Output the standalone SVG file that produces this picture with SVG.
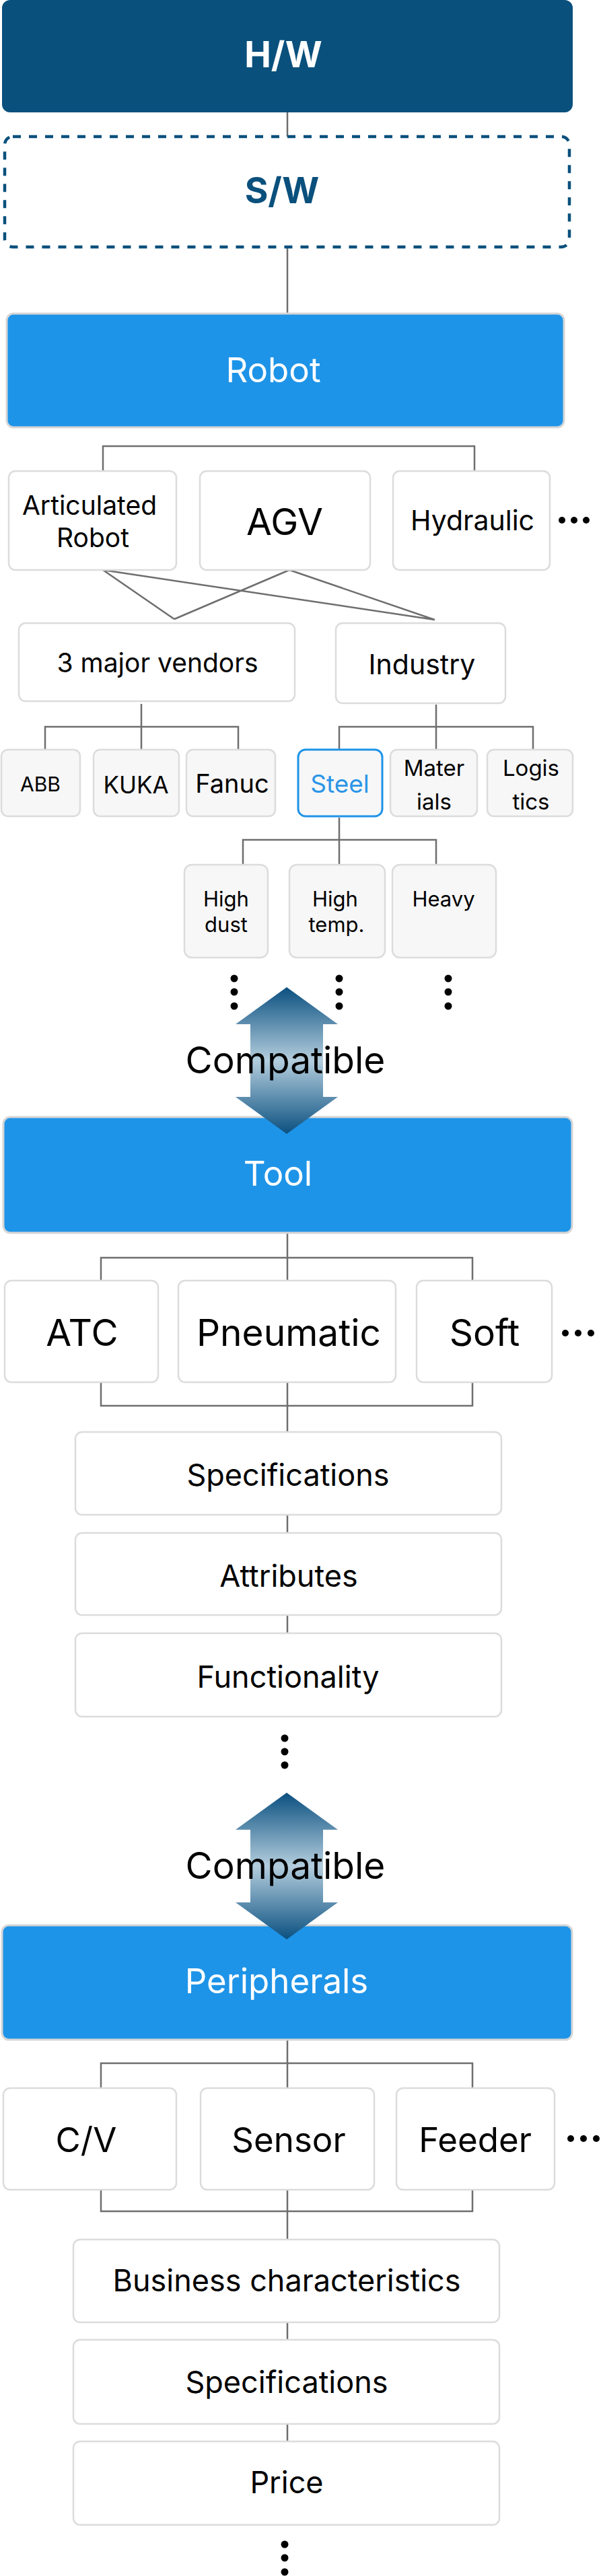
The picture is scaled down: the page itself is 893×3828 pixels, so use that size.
<svg xmlns="http://www.w3.org/2000/svg" width="893" height="3828" viewBox="0 0 893 3828">
<defs>
<linearGradient id="arrowGrad" x1="0" y1="0" x2="0" y2="1">
<stop offset="0" stop-color="#0b5080"/>
<stop offset="0.5" stop-color="#b3cddd"/>
<stop offset="1" stop-color="#0b5080"/>
</linearGradient>
<style>
text{font-family:Inter,"Noto Sans","Liberation Sans",sans-serif;fill:#000;text-anchor:middle}
.box{fill:#fff;stroke:#dcdcdc;stroke-width:2.5}
.gbox{fill:#f7f7f7;stroke:#dcdcdc;stroke-width:2.5}
.blue{fill:#1e94e8;stroke:#d6d6d6;stroke-width:3}
.wt{fill:#fff}
.conn{fill:none;stroke:#6e6e6e;stroke-width:2.5}
.dot{fill:#000}
.arrow{fill:url(#arrowGrad)}
</style>
</defs>
<rect width="893" height="3828" fill="#fff"/>

<g id="connectors">
<path class="conn" d="M427 167V203"/>
<path class="conn" d="M427 367V466"/>
<path class="conn" d="M153 700V663H705V700"/>
<path class="conn" d="M153 847L259 920M153 847L646 921M430 847L259 920M430 847L646 921"/>
<path class="conn" d="M210 1046V1113M67 1113V1080H354V1113"/>
<path class="conn" d="M648 1047V1113M504 1113V1080H792V1113"/>
<path class="conn" d="M504 1215V1285M361 1285V1248H648V1285"/>
<path class="conn" d="M427 1832V1903M150 1903V1869H702V1903"/>
<path class="conn" d="M150 2054V2089H702V2054M427 2054V2128"/>
<path class="conn" d="M427 2251V2278M427 2400V2427"/>
<path class="conn" d="M427 3031V3103M150 3103V3066H702V3103"/>
<path class="conn" d="M150 3254V3286H702V3254M427 3254V3328"/>
<path class="conn" d="M427 3451V3477M427 3602V3628"/>
</g>

<g id="hw"><rect x="3" y="0" width="848" height="167" rx="12" fill="#0a507d"/><text x="421" y="100" font-size="53" font-weight="700" class="wt">H/W</text></g>
<g id="sw"><rect x="7" y="203" width="839" height="164" rx="12" fill="#fff" stroke="#0a507d" stroke-width="4.5" stroke-dasharray="12 12"/><text x="419" y="302" font-size="53" font-weight="700" fill="#0a507d" style="fill:#0a507d">S/W</text></g>
<g id="robot"><rect class="blue" x="10" y="466" width="828" height="169" rx="10"/><text x="406" y="568" font-size="51" class="wt">Robot</text></g>

<g id="articulated"><rect class="box" x="13" y="700" width="249" height="147" rx="10"/><text x="133" y="765" font-size="39">Articulated</text><text x="138" y="813" font-size="39">Robot</text></g>
<g id="agv"><rect class="box" x="297" y="700" width="253" height="147" rx="10"/><text x="423" y="795" font-size="55">AGV</text></g>
<g id="hydraulic"><rect class="box" x="584" y="700" width="233" height="147" rx="10"/><text x="702" y="788" font-size="41">Hydraulic</text></g>
<g id="more1"><circle class="dot" cx="835" cy="773" r="5"/><circle class="dot" cx="853" cy="773" r="5"/><circle class="dot" cx="871" cy="773" r="5"/></g>

<g id="vendors"><rect class="box" x="28" y="926" width="410" height="116" rx="10"/><text x="234" y="999" font-size="39">3 major vendors</text></g>
<g id="industry"><rect class="box" x="499" y="926" width="252" height="119" rx="10"/><text x="627" y="1002" font-size="41">Industry</text></g>

<g id="abb"><rect class="gbox" x="2" y="1114" width="117" height="99" rx="10"/><text x="60" y="1176" font-size="30">ABB</text></g>
<g id="kuka"><rect class="gbox" x="139" y="1114" width="127" height="99" rx="10"/><text x="202" y="1179" font-size="35">KUKA</text></g>
<g id="fanuc"><rect class="gbox" x="277" y="1114" width="132" height="99" rx="10"/><text x="345" y="1178" font-size="38">Fanuc</text></g>
<g id="steel"><rect x="443" y="1114" width="125" height="99" rx="11" fill="#f7f7f7" stroke="#1e94e8" stroke-width="3"/><text x="505" y="1178" font-size="37" style="fill:#2a95e6">Steel</text></g>
<g id="materials"><rect class="gbox" x="580" y="1114" width="129" height="99" rx="10"/><text x="645" y="1153" font-size="33">Mater</text><text x="645" y="1203" font-size="33">ials</text></g>
<g id="logistics"><rect class="gbox" x="724" y="1114" width="127" height="99" rx="10"/><text x="789" y="1153" font-size="33">Logis</text><text x="789" y="1203" font-size="33">tics</text></g>

<g id="highdust"><rect class="gbox" x="274" y="1285" width="124" height="138" rx="11"/><text x="336" y="1347" font-size="31">High</text><text x="336" y="1385" font-size="31">dust</text></g>
<g id="hightemp"><rect class="gbox" x="430" y="1285" width="142" height="138" rx="11"/><text x="498" y="1347" font-size="31">High</text><text x="500" y="1385" font-size="31">temp.</text></g>
<g id="heavy"><rect class="gbox" x="583" y="1285" width="154" height="138" rx="11"/><text x="659" y="1347" font-size="31">Heavy</text></g>
<g id="more2">
<circle class="dot" cx="348" cy="1454" r="5.5"/><circle class="dot" cx="348" cy="1474" r="5.5"/><circle class="dot" cx="348" cy="1495" r="5.5"/>
<circle class="dot" cx="504" cy="1454" r="5.5"/><circle class="dot" cx="504" cy="1474" r="5.5"/><circle class="dot" cx="504" cy="1495" r="5.5"/>
<circle class="dot" cx="666" cy="1454" r="5.5"/><circle class="dot" cx="666" cy="1474" r="5.5"/><circle class="dot" cx="666" cy="1495" r="5.5"/>
</g>

<g id="tool"><rect class="blue" x="5" y="1660" width="845" height="172" rx="10"/><text x="413" y="1762" font-size="51" class="wt">Tool</text></g>
<g id="compat1"><polygon class="arrow" points="426,1467 502,1522 480,1522 480,1630 502,1630 426,1685 350,1630 372,1630 372,1522 350,1522"/><text x="424" y="1595" font-size="55">Compatible</text></g>

<g id="atc"><rect class="box" x="7" y="1903" width="228" height="151" rx="10"/><text x="122" y="2000" font-size="55">ATC</text></g>
<g id="pneumatic"><rect class="box" x="265" y="1903" width="323" height="151" rx="10"/><text x="429" y="2000" font-size="55">Pneumatic</text></g>
<g id="soft"><rect class="box" x="619" y="1903" width="201" height="151" rx="10"/><text x="720" y="2000" font-size="55">Soft</text></g>
<g id="more3"><circle class="dot" cx="840" cy="1981" r="5"/><circle class="dot" cx="859" cy="1981" r="5"/><circle class="dot" cx="878" cy="1981" r="5"/></g>

<g id="tspec"><rect class="box" x="112" y="2128" width="633" height="123" rx="10"/><text x="428" y="2208" font-size="45">Specifications</text></g>
<g id="tattr"><rect class="box" x="112" y="2278" width="633" height="122" rx="10"/><text x="429" y="2358" font-size="45">Attributes</text></g>
<g id="tfunc"><rect class="box" x="112" y="2427" width="633" height="124" rx="10"/><text x="428" y="2508" font-size="45">Functionality</text></g>
<g id="more4"><circle class="dot" cx="423" cy="2583" r="5.5"/><circle class="dot" cx="423" cy="2603" r="5.5"/><circle class="dot" cx="423" cy="2623" r="5.5"/></g>

<g id="peripherals"><rect class="blue" x="3" y="2861" width="847" height="170" rx="10"/><text x="411" y="2962" font-size="51" class="wt">Peripherals</text></g>
<g id="compat2"><polygon class="arrow" points="426,2664 502,2719 480,2719 480,2827 502,2827 426,2882 350,2827 372,2827 372,2719 350,2719"/><text x="424" y="2792" font-size="55">Compatible</text></g>

<g id="cv"><rect class="box" x="5" y="3103" width="257" height="151" rx="10"/><text x="128" y="3198" font-size="51">C/V</text></g>
<g id="sensor"><rect class="box" x="298" y="3103" width="258" height="151" rx="10"/><text x="429" y="3198" font-size="51">Sensor</text></g>
<g id="feeder"><rect class="box" x="589" y="3103" width="235" height="151" rx="10"/><text x="706" y="3198" font-size="51">Feeder</text></g>
<g id="more5"><circle class="dot" cx="848" cy="3178" r="5"/><circle class="dot" cx="867" cy="3178" r="5"/><circle class="dot" cx="886" cy="3178" r="5"/></g>

<g id="business"><rect class="box" x="109" y="3328" width="633" height="123" rx="10"/><text x="426" y="3405" font-size="45">Business characteristics</text></g>
<g id="pspec"><rect class="box" x="109" y="3477" width="633" height="125" rx="10"/><text x="426" y="3556" font-size="45">Specifications</text></g>
<g id="price"><rect class="box" x="109" y="3628" width="633" height="124" rx="10"/><text x="426" y="3705" font-size="45">Price</text></g>
<g id="more6"><circle class="dot" cx="423" cy="3781" r="5.5"/><circle class="dot" cx="423" cy="3801" r="5.5"/><circle class="dot" cx="423" cy="3822" r="5.5"/></g>
</svg>
